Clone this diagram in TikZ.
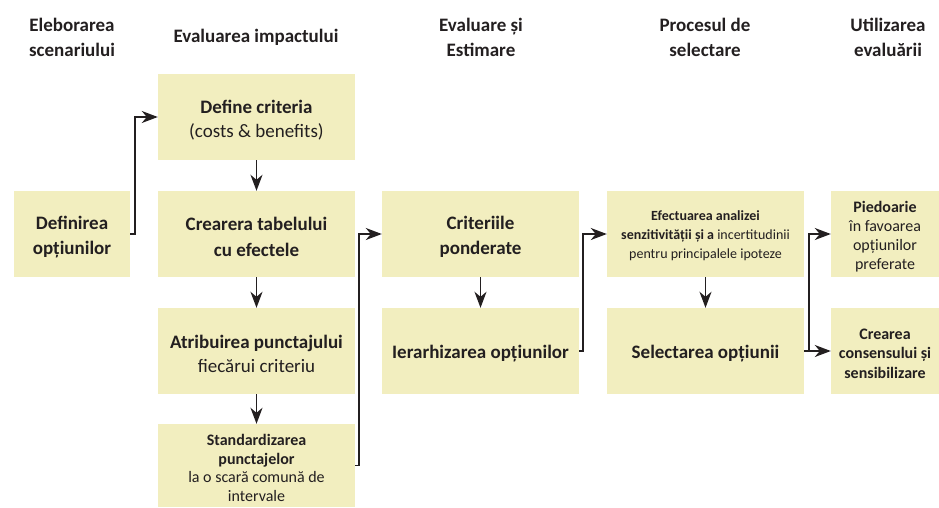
\documentclass[tikz,border=0pt]{standalone}
\usepackage{fontspec}
\setmainfont{Carlito}
\usetikzlibrary{arrows.meta}
\definecolor{ink}{HTML}{231F20}
\definecolor{pale}{HTML}{F2EEBF}
\newcommand\stt{\rule{0pt}{1em}}
\begin{document}
\begin{tikzpicture}[x=1pt,y=-1pt,
  pbox/.style={rectangle, fill=pale, draw=none, inner sep=0pt, align=center, text=ink,
    minimum width=197pt, minimum height=86pt, font=\fontsize{19}{24}\selectfont},
  big/.style={font=\fontsize{19}{25}\selectfont\bfseries},
  hdr/.style={align=center, text=ink, inner sep=0pt, font=\fontsize{19}{25}\selectfont\bfseries},
  conn/.style={draw=ink, line width=1.7pt, -{Stealth[length=16pt,width=12pt,inset=5pt]}}]
\useasboundingbox (0,0) rectangle (939,507);
% headers
\node[hdr] (h1) at (72,34.5) {\stt Eleborarea\\scenariului};
\node[hdr] (h2) at (256,34.5) {\stt Evaluarea impactului};
\node[hdr] (h3) at (481,34.5) {\stt Evaluare și\\Estimare};
\node[hdr] (h4) at (705,34.5) {\stt Procesul de\\selectare};
\node[hdr] (h5) at (888,34.5) {\stt Utilizarea\\evaluării};
% boxes
\node[pbox, minimum width=116pt, big] (def) at (72,234) {\stt Definirea\\opțiunilor};
\node[pbox] (crit) at (256.5,117) {\stt\textbf{Define criteria}\\(costs \& benefits)};
\node[pbox, font=\fontsize{19}{26}\selectfont\bfseries] (tab) at (256.5,234) {\stt Crearera tabelului\\cu efectele};
\node[pbox] (atr) at (256.5,351) {\stt\textbf{Atribuirea punctajului}\\fiecărui criteriu};
\node[pbox, minimum height=83pt, font=\fontsize{16}{18.5}\selectfont] (std) at (256.5,465.5) {\stt\textbf{Standardizarea}\\\textbf{punctajelor}\\la o scară comună de\\intervale};
\node[pbox, big] (pond) at (480.5,234) {\stt Criteriile\\ponderate};
\node[pbox, big] (ier) at (480.5,351) {\stt Ierarhizarea opțiunilor};
\node[pbox, font=\fontsize{14}{19}\selectfont] (sens) at (705.5,234) {\stt\textbf{Efectuarea analizei}\\\textbf{senzitivității și a} incertitudinii\\pentru principalele ipoteze};
\node[pbox, big] (sel) at (705.5,351) {\stt Selectarea opțiunii};
\node[pbox, minimum width=108pt, font=\fontsize{16}{19}\selectfont] (pled) at (885,234) {\stt\textbf{Piedoarie}\\în favoarea\\opțiunilor\\preferate};
\node[pbox, minimum width=108pt, font=\fontsize{16}{19.5}\selectfont\bfseries] (cons) at (885,351) {\stt Crearea\\consensului și\\sensibilizare};
% connectors
\draw[conn] (def.east) -- ++(5,0) |- (crit.west);
\draw[conn] (crit.south) -- (tab.north);
\draw[conn] (tab.south) -- (atr.north);
\draw[conn] (atr.south) -- (std.north);
\draw[conn] (std.east) -- ++(4,0) |- (pond.west);
\draw[conn] (pond.south) -- (ier.north);
\draw[conn] (ier.east) -- ++(4,0) |- (sens.west);
\draw[conn] (sens.south) -- (sel.north);
\draw[conn] (sel.east) -- ++(5,0) |- (pled.west);
\draw[conn] (sel.east) -- (cons.west);
\end{tikzpicture}
\end{document}
